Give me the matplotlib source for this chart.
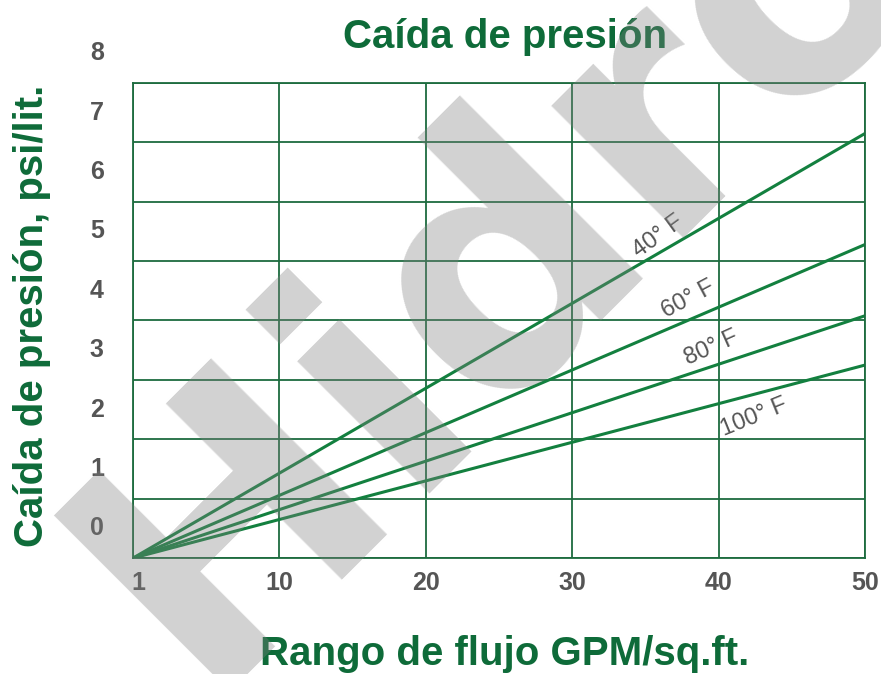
import matplotlib
matplotlib.use('Agg')
import matplotlib.pyplot as plt
import matplotlib.transforms as mtransforms

# datos
flow = [0, 50]
temps = ['40° F', '60° F', '80° F', '100° F']
drop_end = [7.15, 5.28, 4.08, 3.25]   # psi/lit. a 50 GPM/sq.ft.
x_ticks = [0, 10, 20, 30, 40, 50]
x_labels = ['1', '10', '20', '30', '40', '50']
y_labels = ['0', '1', '2', '3', '4', '5', '6', '7', '8']

# donde va cada etiqueta de temperatura (x, y, angulo)
lab_pos = [(35.9, 5.41, 36), (37.9, 4.35, 28), (39.5, 3.54, 24), (42.4, 2.37, 22)]

plt.rcParams['font.family'] = ['Liberation Sans', 'DejaVu Sans']
green = '#0e6b39'
linec = '#13803f'
gridc = '#1d6b3f'
grey = '#555555'

fig = plt.figure(figsize=(8.81, 6.74), dpi=100)
fig.patch.set_facecolor('white')

ax = fig.add_axes([0.151, 0.172, 0.831, 0.705])
ax.patch.set_alpha(0)
ax.set_axisbelow(True)

for t, d in zip(temps, drop_end):
    ax.plot(flow, [0, d], color=linec, lw=2.2, solid_capstyle='butt')
for t, (lx, ly, rot) in zip(temps, lab_pos):
    ax.text(lx, ly, t, fontsize=17, color=grey, rotation=rot, ha='center', va='center',
            rotation_mode='anchor')

ax.set_xlim(0, 50)
ax.set_ylim(0, 8)
# el "1" va un poco a la derecha de la esquina, se pone aparte
ax.set_xticks(x_ticks, [''] + x_labels[1:])
ax.set_yticks(range(9))
ax.tick_params(axis='x', length=0, pad=9, labelsize=18, labelcolor=grey)
ax.tick_params(axis='y', length=0, labelleft=False)
for lbl in ax.get_xticklabels():
    lbl.set_fontweight('bold')
ax.grid(True, color=gridc, lw=1.3)
for s in ax.spines.values():
    s.set_color(gridc)
    s.set_linewidth(1.3)

trx = mtransforms.blended_transform_factory(ax.transData, ax.transAxes)
ax.text(0.35, 0, x_labels[0], transform=trx + mtransforms.ScaledTranslation(0, -9 / 72, fig.dpi_scale_trans),
        fontsize=18, fontweight='bold', color=grey, ha='center', va='top')

# etiquetas del eje y, corridas medio cuadro hacia arriba como en el original
tr = mtransforms.blended_transform_factory(fig.transFigure, ax.transData)
for i, lab in enumerate(y_labels):
    ax.text(0.110, i + 0.5, lab, transform=tr, fontsize=18, fontweight='bold',
            color=grey, ha='center', va='center')

fig.text(0.573, 0.929, 'Caída de presión', fontsize=29, fontweight='bold', color=green,
         ha='center', va='baseline')
fig.text(0.573, 0.0134, 'Rango de flujo GPM/sq.ft.', fontsize=29, fontweight='bold',
         color=green, ha='center', va='baseline')
fig.text(0.0488, 0.531, 'Caída de presión, psi/lit.', fontsize=29, fontweight='bold',
         color=green, ha='center', va='baseline', rotation=90, rotation_mode='anchor')

# marca de agua encima de todo, semitransparente
fig.text(0.2259, -0.0253, 'Hidro', family='DejaVu Sans', fontsize=245, fontweight='bold',
         color='#808080', alpha=0.355, rotation=45, rotation_mode='anchor',
         ha='left', va='baseline', zorder=10)

fig.savefig('out.png', dpi=100)
